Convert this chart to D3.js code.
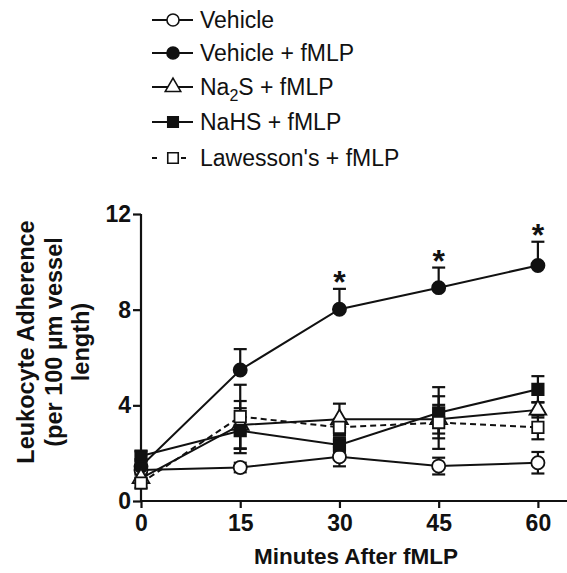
<!DOCTYPE html>
<html>
<head>
<meta charset="utf-8">
<script src="https://cdn.jsdelivr.net/npm/d3@7"></script>
<style>
  body { margin: 0; background: #fff; }
  svg { display: block; font-family: "Liberation Sans", Arial, sans-serif; }
</style>
</head>
<body>
<svg id="chart"></svg>
<script>
const width = 567;
const height = 573;

// data
const minutes = [0, 15, 30, 45, 60];
const vehicle = [1.3, 1.4, 1.85, 1.46, 1.6];
const vehicleErr = [0.2, 0.2, 0.4, 0.35, 0.45];
const vehicleFmlp = [1.45, 5.48, 8.02, 8.92, 9.85];
const vehicleFmlpErr = [0.3, 0.87, 0.85, 0.84, 0.99];
const na2s = [0.95, 3.18, 3.42, 3.42, 3.81];
const na2sErr = [0.2, 1.0, 0.65, 0.6, 0.32];
const nahs = [1.88, 2.94, 2.34, 3.69, 4.67];
const nahsErr = [0.2, 0.94, 0.3, 1.07, 0.55];
const lawesson = [0.75, 3.53, 3.08, 3.28, 3.08];
const lawessonErr = [0.2, 1.33, 0.35, 1.1, 0.5];
const starAt = [30, 45, 60];
const yTicks = [0, 4, 8, 12];

const series = [
  { name: "Vehicle", values: vehicle, err: vehicleErr, shape: "circle", fill: "#fff", dash: null, both: true },
  { name: "Vehicle + fMLP", values: vehicleFmlp, err: vehicleFmlpErr, shape: "circle", fill: "#111", dash: null, both: false },
  { name: "Na2S + fMLP", values: na2s, err: na2sErr, shape: "triangle", fill: "#fff", dash: null, both: true },
  { name: "NaHS + fMLP", values: nahs, err: nahsErr, shape: "square", fill: "#111", dash: null, both: true },
  { name: "Lawesson's + fMLP", values: lawesson, err: lawessonErr, shape: "square", fill: "#fff", dash: "6,4", both: true }
];

const svg = d3.select("#chart")
  .attr("width", width)
  .attr("height", height);

const x = d3.scaleLinear().domain([0, 64.4]).range([141, 567]);
const y = d3.scaleLinear().domain([0, 12]).range([501, 214]);

const symbolFor = (shape, size) => {
  if (shape === "circle") return d3.symbol(d3.symbolCircle, size)();
  if (shape === "square") return d3.symbol(d3.symbolSquare, size)();
  return d3.symbol(d3.symbolTriangle, size * 0.9)();
};

// axes
const yAxis = svg.append("g")
  .attr("transform", `translate(${x(0)},0)`)
  .call(d3.axisLeft(y).tickValues(yTicks).tickSize(8).tickPadding(2));
const xAxis = svg.append("g")
  .attr("transform", `translate(0,${y(0)})`)
  .call(d3.axisBottom(x).tickValues(minutes).tickSize(7).tickPadding(3));

[xAxis, yAxis].forEach(g => {
  g.select(".domain").attr("stroke", "#111").attr("stroke-width", 2.2);
  g.selectAll(".tick line").attr("stroke", "#111").attr("stroke-width", 2.2);
  g.selectAll(".tick text")
    .attr("fill", "#111")
    .attr("font-size", 23)
    .attr("font-weight", "bold")
    .attr("font-family", "Liberation Sans, Arial, sans-serif");
});
// y axis domain should not extend beyond tick ends
yAxis.select(".domain").attr("d", `M0,${y(12)}V${y(0)}`);
xAxis.select(".domain").attr("d", `M${x(0)},0H${width}`);
xAxis.selectAll(".tick text").attr("dy", "0.85em");

// axis titles
svg.append("text")
  .attr("x", 356).attr("y", 564)
  .attr("text-anchor", "middle")
  .attr("font-size", 22.5)
  .attr("font-weight", "bold")
  .attr("fill", "#111")
  .text("Minutes After fMLP");

const yTitle = svg.append("text")
  .attr("transform", "translate(0,342) rotate(-90)")
  .attr("text-anchor", "middle")
  .attr("font-size", 23.5)
  .attr("font-weight", "bold")
  .attr("fill", "#111");
["Leukocyte Adherence", "(per 100 µm vessel", "length)"].forEach((t, i) => {
  yTitle.append("tspan").attr("x", 0).attr("y", 34 + i * 27.5).text(t);
});

// lines
const line = d3.line().x((d, i) => x(minutes[i])).y(d => y(d));
const plot = svg.append("g");

series.forEach(s => {
  plot.append("path")
    .attr("d", line(s.values))
    .attr("fill", "none")
    .attr("stroke", "#111")
    .attr("stroke-width", 2)
    .attr("stroke-dasharray", s.dash);
});

// error bars
series.forEach(s => {
  s.values.forEach((v, i) => {
    const cx = x(minutes[i]);
    const top = y(v + s.err[i]);
    const bot = s.both ? y(v - s.err[i]) : y(v);
    plot.append("line")
      .attr("x1", cx).attr("x2", cx).attr("y1", top).attr("y2", bot)
      .attr("stroke", "#111").attr("stroke-width", 2.2);
    plot.append("line")
      .attr("x1", cx - 6.5).attr("x2", cx + 6.5).attr("y1", top).attr("y2", top)
      .attr("stroke", "#111").attr("stroke-width", 2.2);
    if (s.both) {
      plot.append("line")
        .attr("x1", cx - 6.5).attr("x2", cx + 6.5).attr("y1", bot).attr("y2", bot)
        .attr("stroke", "#111").attr("stroke-width", 2.2);
    }
  });
});

// markers
series.forEach(s => {
  plot.selectAll(null)
    .data(s.values)
    .join("path")
    .attr("transform", (d, i) => `translate(${x(minutes[i])},${y(d)})`)
    .attr("d", symbolFor(s.shape, s.shape === "square" ? 130 : 135))
    .attr("fill", s.fill)
    .attr("stroke", "#111")
    .attr("stroke-width", 1.8);
});

// significance stars
svg.selectAll(".star")
  .data(starAt)
  .join("text")
  .attr("class", "star")
  .attr("x", d => x(d))
  .attr("y", d => y(vehicleFmlp[minutes.indexOf(d)] + vehicleFmlpErr[minutes.indexOf(d)]) + 4)
  .attr("text-anchor", "middle")
  .attr("font-size", 32)
  .attr("font-weight", "bold")
  .attr("fill", "#111")
  .text("*");

// legend
const legend = svg.append("g");
const rowY = [20, 53, 87, 122, 158];
series.forEach((s, i) => {
  const g = legend.append("g").attr("transform", `translate(0,${rowY[i]})`);
  if (s.dash) {
    g.append("line").attr("x1", 152).attr("x2", 157).attr("y1", 0).attr("y2", 0)
      .attr("stroke", "#111").attr("stroke-width", 2);
    g.append("line").attr("x1", 181).attr("x2", 186).attr("y1", 0).attr("y2", 0)
      .attr("stroke", "#111").attr("stroke-width", 2);
  } else {
    g.append("line").attr("x1", 152).attr("x2", 193).attr("y1", 0).attr("y2", 0)
      .attr("stroke", "#111").attr("stroke-width", 2);
  }
  g.append("path")
    .attr("transform", "translate(173,0)")
    .attr("d", symbolFor(s.shape, s.shape === "square" ? 110 : 115))
    .attr("fill", s.fill)
    .attr("stroke", "#111")
    .attr("stroke-width", 1.6);
  const t = g.append("text")
    .attr("x", 200).attr("y", 8)
    .attr("font-size", 23)
    .attr("fill", "#111");
  if (s.name.startsWith("Na2S")) {
    t.append("tspan").text("Na");
    t.append("tspan").attr("font-size", 16).attr("dy", 6).text("2");
    t.append("tspan").attr("dy", -6).text("S + fMLP");
  } else {
    t.text(s.name);
  }
});
</script>
</body>
</html>
